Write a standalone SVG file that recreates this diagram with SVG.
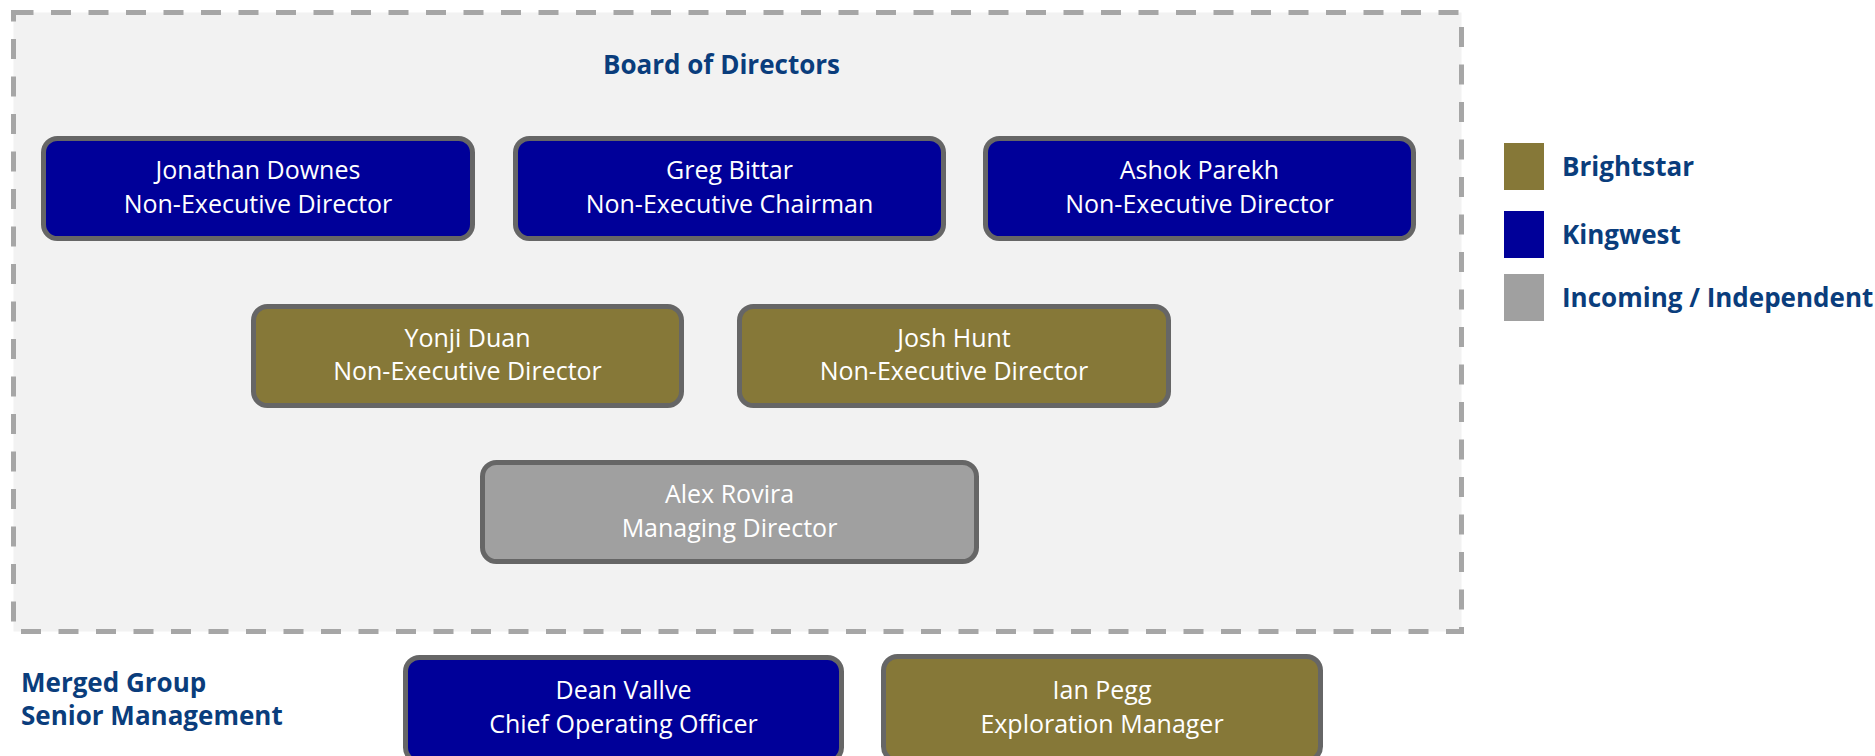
<svg xmlns="http://www.w3.org/2000/svg" width="1875" height="756" viewBox="0 0 1875 756">
<style>
.box{stroke:#666666;stroke-width:5}
.kw{fill:#000099}
.bs{fill:#867838}
.ind{fill:#A0A0A0}
.nt{font-family:"Open Sans","Liberation Sans",sans-serif;font-size:25px;fill:#ffffff;text-anchor:middle}
.hd{font-family:"Open Sans","Liberation Sans",sans-serif;font-size:26px;font-weight:bold;fill:#0A3D7C}
</style>
<rect id="board-frame" x="13.5" y="12.5" width="1448" height="619" fill="#F2F2F2" stroke="#A6A6A6" stroke-width="5" stroke-dasharray="20 17.5"/>
<text class="hd" x="721.5" y="74" text-anchor="middle">Board of Directors</text>
<g id="connectors"></g>
<g id="jonathan-downes">
<rect class="box kw" x="43.5" y="138.5" width="429" height="100" rx="14"/>
<text class="nt" x="258" y="179">Jonathan Downes</text>
<text class="nt" x="258" y="213">Non-Executive Director</text>
</g>
<g id="greg-bittar">
<rect class="box kw" x="515.5" y="138.5" width="428" height="100" rx="14"/>
<text class="nt" x="729.5" y="179">Greg Bittar</text>
<text class="nt" x="729.5" y="213">Non-Executive Chairman</text>
</g>
<g id="ashok-parekh">
<rect class="box kw" x="985.5" y="138.5" width="428" height="100" rx="14"/>
<text class="nt" x="1199.5" y="179">Ashok Parekh</text>
<text class="nt" x="1199.5" y="213">Non-Executive Director</text>
</g>
<g id="yonji-duan">
<rect class="box bs" x="253.5" y="306.5" width="428" height="99" rx="14"/>
<text class="nt" x="467.5" y="347">Yonji Duan</text>
<text class="nt" x="467.5" y="380">Non-Executive Director</text>
</g>
<g id="josh-hunt">
<rect class="box bs" x="739.5" y="306.5" width="429" height="99" rx="14"/>
<text class="nt" x="954" y="347">Josh Hunt</text>
<text class="nt" x="954" y="380">Non-Executive Director</text>
</g>
<g id="alex-rovira">
<rect class="box ind" x="482.5" y="462.5" width="494" height="99" rx="14"/>
<text class="nt" x="729.5" y="503">Alex Rovira</text>
<text class="nt" x="729.5" y="537">Managing Director</text>
</g>
<g id="senior-management-label">
<text class="hd" x="21" y="692">Merged Group</text>
<text class="hd" x="21" y="725">Senior Management</text>
</g>
<g id="dean-vallve">
<rect class="box kw" x="405.5" y="657.5" width="436" height="104" rx="14"/>
<text class="nt" x="623.5" y="699">Dean Vallve</text>
<text class="nt" x="623.5" y="733">Chief Operating Officer</text>
</g>
<g id="ian-pegg">
<rect class="box bs" x="883.5" y="656.5" width="437" height="104" rx="14"/>
<text class="nt" x="1102" y="699">Ian Pegg</text>
<text class="nt" x="1102" y="733">Exploration Manager</text>
</g>
<g id="legend">
<rect class="bs" x="1504" y="143" width="40" height="47"/>
<text class="hd" x="1562" y="176">Brightstar</text>
<rect class="kw" x="1504" y="211" width="40" height="47"/>
<text class="hd" x="1562" y="244">Kingwest</text>
<rect class="ind" x="1504" y="274" width="40" height="47"/>
<text class="hd" x="1562" y="307">Incoming / Independent</text>
</g>
</svg>
